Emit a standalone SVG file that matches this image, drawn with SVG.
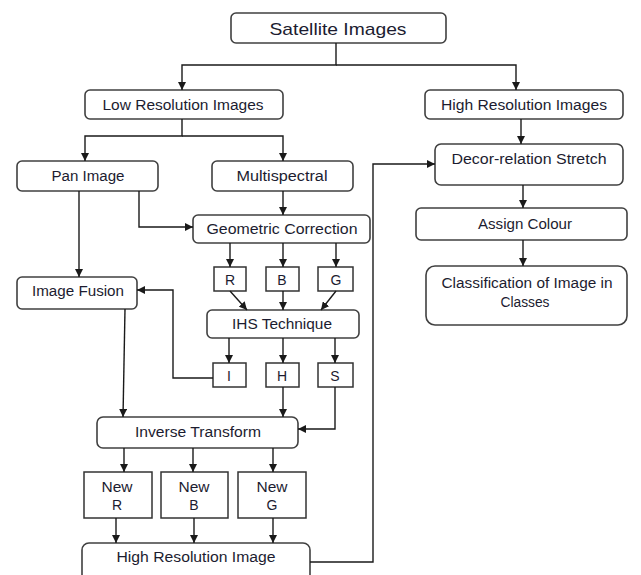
<svg xmlns="http://www.w3.org/2000/svg" width="641" height="575" viewBox="0 0 641 575">
<style>
.box{fill:#fff;stroke:#404040;stroke-width:1.6}
.sq{fill:#fff;stroke:#333;stroke-width:1.5}
.t{font-family:"Liberation Sans",Arial,sans-serif;font-size:14px;fill:#1c1c30;text-anchor:middle}
.big{font-size:17px}
.c path{fill:none;stroke:#1a1a1a;stroke-width:1.4}
</style>
<defs>
<marker id="ah" markerUnits="userSpaceOnUse" markerWidth="9" markerHeight="8" refX="8" refY="4" orient="auto">
<path d="M0,0 L8,4 L0,8 z" fill="#1a1a1a"/>
</marker>
</defs>
<rect width="641" height="575" fill="#fff"/>
<g id="satellite"><rect class="box" x="231" y="13" width="215" height="30" rx="5"/><text class="t big" x="338" y="35" textLength="137" lengthAdjust="spacingAndGlyphs">Satellite Images</text></g>
<g id="lowres"><rect class="box" x="85" y="90" width="198" height="29" rx="5"/><text class="t" x="183" y="110" textLength="161" lengthAdjust="spacingAndGlyphs">Low Resolution Images</text></g>
<g id="highres"><rect class="box" x="425" y="90" width="198" height="29" rx="5"/><text class="t" x="524" y="110" textLength="166" lengthAdjust="spacingAndGlyphs">High Resolution Images</text></g>
<g id="pan"><rect class="box" x="17" y="161" width="141" height="30" rx="5"/><text class="t" x="88" y="181" textLength="73" lengthAdjust="spacingAndGlyphs">Pan Image</text></g>
<g id="multi"><rect class="box" x="212" y="161" width="141" height="30" rx="5"/><text class="t" x="282" y="181" textLength="91" lengthAdjust="spacingAndGlyphs">Multispectral</text></g>
<g id="decor"><rect class="box" x="435" y="144" width="188" height="41" rx="6"/><text class="t" x="529" y="164" textLength="155" lengthAdjust="spacingAndGlyphs">Decor-relation Stretch</text></g>
<g id="geo"><rect class="box" x="193" y="215" width="177" height="28" rx="5"/><text class="t" x="282" y="234" textLength="151" lengthAdjust="spacingAndGlyphs">Geometric Correction</text></g>
<g id="assign"><rect class="box" x="416" y="208" width="211" height="32" rx="5"/><text class="t" x="525" y="229" textLength="94" lengthAdjust="spacingAndGlyphs">Assign Colour</text></g>
<g id="classif"><rect class="box" x="426" y="266" width="201" height="59" rx="9"/><text class="t" x="527" y="288" textLength="171" lengthAdjust="spacingAndGlyphs">Classification of Image in</text><text class="t" x="525" y="307" textLength="49" lengthAdjust="spacingAndGlyphs">Classes</text></g>
<g id="fusion"><rect class="box" x="17" y="277" width="120" height="32" rx="5"/><text class="t" x="78" y="296" textLength="92" lengthAdjust="spacingAndGlyphs">Image Fusion</text></g>
<g id="r"><rect class="sq" x="214" y="267" width="32" height="24"/><text class="t" x="230" y="285">R</text></g>
<g id="b"><rect class="sq" x="266" y="267" width="33" height="24"/><text class="t" x="282" y="285">B</text></g>
<g id="g"><rect class="sq" x="318" y="267" width="35" height="24"/><text class="t" x="336" y="285">G</text></g>
<g id="ihs"><rect class="box" x="207" y="310" width="152" height="28" rx="5"/><text class="t" x="282" y="329" textLength="100" lengthAdjust="spacingAndGlyphs">IHS Technique</text></g>
<g id="i"><rect class="sq" x="213" y="363" width="33" height="24"/><text class="t" x="229" y="381">I</text></g>
<g id="h"><rect class="sq" x="266" y="363" width="33" height="24"/><text class="t" x="282" y="381">H</text></g>
<g id="s"><rect class="sq" x="318" y="363" width="35" height="24"/><text class="t" x="335" y="381">S</text></g>
<g id="inverse"><rect class="box" x="97" y="417" width="201" height="31" rx="6"/><text class="t" x="198" y="437" textLength="126" lengthAdjust="spacingAndGlyphs">Inverse Transform</text></g>
<g id="newr"><rect class="sq" x="84" y="472" width="68" height="46"/><text class="t" x="117" y="492" textLength="31" lengthAdjust="spacingAndGlyphs">New</text><text class="t" x="117" y="510">R</text></g>
<g id="newb"><rect class="sq" x="161" y="472" width="67" height="46"/><text class="t" x="194" y="492" textLength="31" lengthAdjust="spacingAndGlyphs">New</text><text class="t" x="194" y="510">B</text></g>
<g id="newg"><rect class="sq" x="238" y="472" width="68" height="46"/><text class="t" x="272" y="492" textLength="31" lengthAdjust="spacingAndGlyphs">New</text><text class="t" x="272" y="510">G</text></g>
<g id="hri"><rect class="box" x="82" y="543" width="228" height="45" rx="7"/><text class="t" x="196" y="562" textLength="159" lengthAdjust="spacingAndGlyphs">High Resolution Image</text></g>
<g id="connectors" class="c">
<path d="M336,43 V65 H182 V90" marker-end="url(#ah)"/>
<path d="M336,65 H516 V90" marker-end="url(#ah)"/>
<path d="M182,119 V136 H85 V161" marker-end="url(#ah)"/>
<path d="M182,136 H283 V161" marker-end="url(#ah)"/>
<path d="M521,119 V144" marker-end="url(#ah)"/>
<path d="M79,191 V277" marker-end="url(#ah)"/>
<path d="M139,191 V227 H193" marker-end="url(#ah)"/>
<path d="M283,191 V215" marker-end="url(#ah)"/>
<path d="M230,243 V267" marker-end="url(#ah)"/>
<path d="M283,243 V267" marker-end="url(#ah)"/>
<path d="M336,243 V267" marker-end="url(#ah)"/>
<path d="M230,291 L247,310" marker-end="url(#ah)"/>
<path d="M283,291 V310" marker-end="url(#ah)"/>
<path d="M336,291 L321,310" marker-end="url(#ah)"/>
<path d="M229,338 V363" marker-end="url(#ah)"/>
<path d="M283,338 V363" marker-end="url(#ah)"/>
<path d="M335,338 V363" marker-end="url(#ah)"/>
<path d="M213,378 H173 V290 H137" marker-end="url(#ah)"/>
<path d="M125,309 L123,417" marker-end="url(#ah)"/>
<path d="M283,387 V417" marker-end="url(#ah)"/>
<path d="M335,387 V429 H298" marker-end="url(#ah)"/>
<path d="M124,448 V472" marker-end="url(#ah)"/>
<path d="M193,448 V472" marker-end="url(#ah)"/>
<path d="M273,448 V472" marker-end="url(#ah)"/>
<path d="M116,518 V543" marker-end="url(#ah)"/>
<path d="M194,518 V543" marker-end="url(#ah)"/>
<path d="M273,518 V543" marker-end="url(#ah)"/>
<path d="M310,562 H373 V164 H435" marker-end="url(#ah)"/>
<path d="M523,185 V208" marker-end="url(#ah)"/>
<path d="M523,240 V266" marker-end="url(#ah)"/>
</g>
</svg>
